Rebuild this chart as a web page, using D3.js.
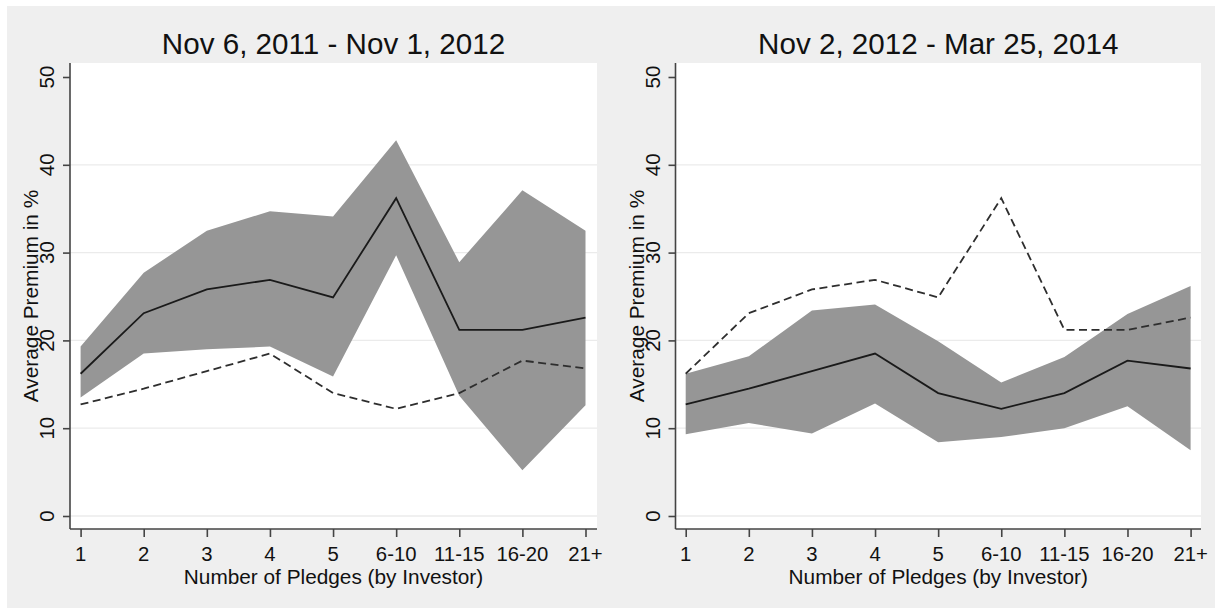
<!DOCTYPE html>
<html>
<head>
<meta charset="utf-8">
<script src="https://cdn.jsdelivr.net/npm/d3@7"></script>
<style>
  html, body { margin: 0; padding: 0; background: #ffffff; }
  svg { display: block; }
  text { font-family: "Liberation Sans", Arial, sans-serif; fill: #111; }
</style>
</head>
<body>
<svg id="chart" width="1215" height="608"></svg>
<script>
// ---- data ----
const categories = ["1", "2", "3", "4", "5", "6-10", "11-15", "16-20", "21+"];
const yTicks = [0, 10, 20, 30, 40, 50];
const titles = ["Nov 6, 2011 - Nov 1, 2012", "Nov 2, 2012 - Mar 25, 2014"];
const period1Mean  = [16.2, 23.1, 25.8, 26.9, 24.9, 36.2, 21.2, 21.2, 22.6];
const period1Lower = [13.5, 18.5, 19.0, 19.3, 15.9, 29.7, 13.7, 5.2, 12.6];
const period1Upper = [19.3, 27.7, 32.5, 34.7, 34.1, 42.8, 28.9, 37.1, 32.5];
const period2Mean  = [12.7, 14.5, 16.5, 18.5, 14.0, 12.2, 14.0, 17.7, 16.8];
const period2Lower = [9.3, 10.6, 9.4, 12.8, 8.4, 9.0, 10.0, 12.5, 7.5];
const period2Upper = [16.2, 18.2, 23.4, 24.1, 19.9, 15.2, 18.1, 23.0, 26.2];
const xTitle = "Number of Pledges (by Investor)";
const yTitle = "Average Premium in %";

// ---- layout ----
const svg = d3.select("#chart");
svg.append("rect").attr("x", 7).attr("y", 6).attr("width", 1215 - 7).attr("height", 608 - 6)
   .attr("fill", "#efefef");

const panels = [
  { left: 70, right: 597, x0: 80.6, x1: 585.5, title: titles[0],
    mean: period1Mean, lower: period1Lower, upper: period1Upper, other: period2Mean },
  { left: 675.5, right: 1201, x0: 685.7, x1: 1190.6, title: titles[1],
    mean: period2Mean, lower: period2Lower, upper: period2Upper, other: period1Mean }
];
const plotTop = 63, plotBottom = 529;

panels.forEach(p => {
  const g = svg.append("g");
  const x = d3.scalePoint().domain(categories).range([p.x0, p.x1]);
  const y = d3.scaleLinear().domain([0, 50]).range([516, 77]);

  // plot region
  g.append("rect").attr("x", p.left).attr("y", plotTop)
    .attr("width", p.right - p.left).attr("height", plotBottom - plotTop).attr("fill", "#ffffff");

  // gridlines
  g.selectAll(".grid").data(yTicks.filter(t => t < 50)).enter().append("line")
    .attr("x1", p.left).attr("x2", p.right)
    .attr("y1", d => y(d)).attr("y2", d => y(d))
    .attr("stroke", "#ebebeb").attr("stroke-width", 1.3);

  const rows = categories.map((c, i) => ({ c, m: p.mean[i], lo: p.lower[i], hi: p.upper[i], o: p.other[i] }));

  // confidence band
  g.append("path").datum(rows)
    .attr("d", d3.area().x(d => x(d.c)).y0(d => y(d.lo)).y1(d => y(d.hi)))
    .attr("fill", "#969696");

  // mean line
  g.append("path").datum(rows)
    .attr("d", d3.line().x(d => x(d.c)).y(d => y(d.m)))
    .attr("fill", "none").attr("stroke", "#1a1a1a").attr("stroke-width", 1.8);

  // other-period dashed line
  g.append("path").datum(rows)
    .attr("d", d3.line().x(d => x(d.c)).y(d => y(d.o)))
    .attr("fill", "none").attr("stroke", "#2e2e2e").attr("stroke-width", 1.8)
    .attr("stroke-dasharray", "8,4.5");

  // y axis
  const yAxis = d3.axisLeft(y).tickValues(yTicks).tickSize(7).tickFormat("");
  const ya = g.append("g").attr("transform", `translate(${p.left},0)`).call(yAxis);
  ya.select(".domain").attr("d", `M0,${plotTop}V${plotBottom}`);
  ya.selectAll("path, line").attr("stroke", "#444").attr("stroke-width", 1.6);
  g.selectAll(".ylab").data(yTicks).enter().append("text")
    .attr("transform", d => `translate(${p.left - 16},${y(d)}) rotate(-90)`)
    .attr("text-anchor", "middle").attr("font-size", 20.5).text(d => d);

  // x axis
  const xAxis = d3.axisBottom(x).tickSize(8).tickFormat("");
  const xa = g.append("g").attr("transform", `translate(0,${plotBottom})`).call(xAxis);
  xa.select(".domain").attr("d", `M${p.left},0H${p.right}`);
  xa.selectAll("path, line").attr("stroke", "#444").attr("stroke-width", 1.6);
  g.selectAll(".xlab").data(categories).enter().append("text")
    .attr("x", d => x(d)).attr("y", 560.5)
    .attr("text-anchor", "middle").attr("font-size", 20.3).text(d => d);

  // axis titles
  g.append("text").attr("x", (p.left + p.right) / 2).attr("y", 584)
    .attr("text-anchor", "middle").attr("font-size", 20.8).text(xTitle);
  g.append("text")
    .attr("transform", `translate(${p.left - 32},${(plotTop + plotBottom) / 2}) rotate(-90)`)
    .attr("text-anchor", "middle").attr("font-size", 20.8).text(yTitle);

  // panel title
  g.append("text").attr("x", (p.left + p.right) / 2).attr("y", 54)
    .attr("text-anchor", "middle").attr("font-size", 29.6).text(p.title);
});
</script>
</body>
</html>
